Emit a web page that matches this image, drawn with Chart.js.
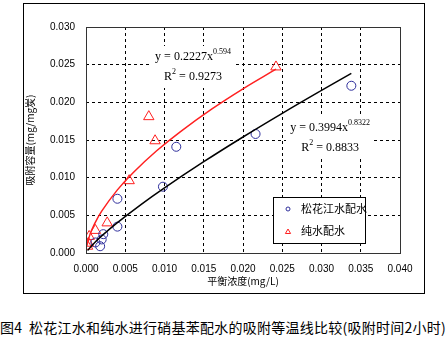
<!DOCTYPE html>
<html>
<head>
<meta charset="utf-8">
<script src="https://cdn.jsdelivr.net/npm/chart.js@4"></script>
<style>
  body { margin: 0; background: #fff; width: 448px; height: 347px; position: relative; overflow: hidden; }
  #frame { position: absolute; left: 23px; top: 3px; width: 400px; height: 289px; border: 1px solid #000; }
  #caption { position: absolute; left: 0; top: 318px; width: 448px; white-space: nowrap; letter-spacing: 0.25px;
    font-family: 'Noto Sans CJK SC', sans-serif; font-size: 14px; line-height: 18px; color: #000; }
</style>
</head>
<body>
<div id="frame"><canvas id="c" width="400" height="289"></canvas></div>
<div id="caption">图4&nbsp;&nbsp;松花江水和纯水进行硝基苯配水的吸附等温线比较(吸附时间2小时)</div>
<script>
// 松花江水配水 (circles)
const riverX = [0.0338, 0.0216, 0.0115, 0.0098, 0.0040, 0.0040, 0.0022, 0.0020, 0.0018, 0.0012];
const riverY = [0.0222, 0.0158, 0.0141, 0.0088, 0.0072, 0.0035, 0.0025, 0.0018, 0.0009, 0.0014];
// 纯水配水 (triangles)
const pureX = [0.0242, 0.0080, 0.0088, 0.0055, 0.0027, 0.0012, 0.0004, 0.0003, 0.0002];
const pureY = [0.0247, 0.0181, 0.0149, 0.0096, 0.0040, 0.0030, 0.0022, 0.0013, 0.0009];
// trend curves
const pureFitX = [0.0001, 0.0005, 0.001, 0.002, 0.004, 0.006, 0.009, 0.012, 0.016, 0.020, 0.0242];
const pureFitY = [0.00094, 0.00244, 0.00368, 0.00555, 0.00838, 0.01066, 0.01357, 0.01609, 0.0191, 0.0218, 0.0244];
const riverFitX = [0.0002, 0.001, 0.002, 0.004, 0.007, 0.010, 0.015, 0.020, 0.025, 0.030, 0.0338];
const riverFitY = [0.00033, 0.00127, 0.00227, 0.00403, 0.00643, 0.00865, 0.01212, 0.0154, 0.01854, 0.02158, 0.02384];

const xTicks = [0, 0.005, 0.01, 0.015, 0.02, 0.025, 0.03, 0.035, 0.04];
const yTicks = [0, 0.005, 0.01, 0.015, 0.02, 0.025, 0.03];

const seriesNames = ['松花江水配水', '纯水配水'];
const pureEq = ['y = 0.2227x', '0.594', '0.9273'];
const riverEq = ['y = 0.3994x', '0.8322', '0.8833'];

const BLUE = '#2f2f9c';
const RED = '#ff2020';

function pts(xs, ys) { return xs.map((x, i) => ({ x, y: ys[i] })); }

const tickFont = { family: 'Liberation Sans', size: 10 };

function drawEq(ctx, cx, cy, eq) {
  ctx.save();
  const big = '12px "Liberation Serif"', small = '8px "Liberation Serif"';
  ctx.font = big;
  const w1 = ctx.measureText(eq[0]).width;
  ctx.font = small;
  const w2 = ctx.measureText(eq[1]).width;
  // white label box like the Excel trendline label
  const bw = w1 + w2 + 8;
  ctx.fillStyle = '#fff';
  ctx.fillRect(Math.round(cx - bw / 2), Math.round(cy - 11), Math.round(bw), 42);
  ctx.fillStyle = '#000';
  ctx.textBaseline = 'middle';
  let x = cx - (w1 + w2) / 2;
  ctx.font = big; ctx.textAlign = 'left';
  ctx.fillText(eq[0], x, cy);
  ctx.font = small;
  ctx.fillText(eq[1], x + w1, cy - 5);
  // R² line
  const r = 'R', rest = ' = ' + eq[2];
  ctx.font = big;
  const wr = ctx.measureText(r).width, wrest = ctx.measureText(rest).width;
  ctx.font = small;
  const w2b = ctx.measureText('2').width;
  x = cx - (wr + w2b + wrest) / 2;
  const y2 = cy + 20;
  ctx.font = big; ctx.fillText(r, x, y2);
  ctx.font = small; ctx.fillText('2', x + wr, y2 - 5);
  ctx.font = big; ctx.fillText(rest, x + wr + w2b, y2);
  ctx.restore();
}

const extras = {
  id: 'extras',
  beforeDatasetsDraw(chart) {
    const { ctx, scales: { x, y } } = chart;
    drawEq(ctx, x.getPixelForValue(0.01363), y.getPixelForValue(0.0260), pureEq);
    drawEq(ctx, x.getPixelForValue(0.0311), y.getPixelForValue(0.0166), riverEq);
  },
  afterDraw(chart) {
    const { ctx, chartArea: a } = chart;
    ctx.save();
    ctx.strokeStyle = '#333';
    ctx.lineWidth = 1;
    ctx.strokeRect(a.left + 0.5, a.top + 0.5, a.right - a.left, a.bottom - a.top);
    ctx.restore();

    // legend box
    const lx = 249, ly = 193, lw = 92, lh = 46;
    ctx.save();
    ctx.fillStyle = '#fff';
    ctx.fillRect(lx, ly, lw, lh);
    ctx.strokeStyle = '#000';
    ctx.lineWidth = 1;
    ctx.strokeRect(lx + 0.5, ly + 0.5, lw, lh);
    ctx.strokeStyle = BLUE;
    Chart.helpers.drawPoint(ctx, { pointStyle: 'circle', radius: 2, borderWidth: 1 }, lx + 15, ly + 12);
    ctx.strokeStyle = RED;
    Chart.helpers.drawPoint(ctx, { pointStyle: 'triangle', radius: 3, borderWidth: 1 }, lx + 15, ly + 35);
    ctx.fillStyle = '#000';
    ctx.font = '11px "Noto Sans CJK SC"';
    ctx.textBaseline = 'middle';
    ctx.fillText(seriesNames[0], lx + 28, ly + 12);
    ctx.fillText(seriesNames[1], lx + 28, ly + 34);
    ctx.restore();
  }
};

const edgeGrid = (ticks) => (c) => (c.index === 0 || c.index === ticks.length - 1) ? 'rgba(0,0,0,0)' : '#000';

new Chart(document.getElementById('c'), {
  type: 'scatter',
  data: {
    datasets: [
      { label: seriesNames[0] + '拟合', data: pts(riverFitX, riverFitY), showLine: true, borderColor: '#000',
        borderWidth: 1.5, pointRadius: 0, tension: 0.4, fill: false },
      { label: seriesNames[1] + '拟合', data: pts(pureFitX, pureFitY), showLine: true, borderColor: RED,
        borderWidth: 1.5, pointRadius: 0, tension: 0.4, fill: false },
      { label: seriesNames[0], data: pts(riverX, riverY), pointStyle: 'circle', pointRadius: 4.5,
        borderColor: BLUE, backgroundColor: 'rgba(0,0,0,0)', borderWidth: 1 },
      { label: seriesNames[1], data: pts(pureX, pureY), pointStyle: 'triangle', pointRadius: 6,
        borderColor: RED, backgroundColor: 'rgba(0,0,0,0)', borderWidth: 1 }
    ]
  },
  options: {
    responsive: false, animation: false,
    layout: { padding: { top: 23, right: 24, left: 0, bottom: 0 } },
    plugins: { legend: { display: false }, tooltip: { enabled: false } },
    scales: {
      x: {
        type: 'linear', min: 0, max: 0.04,
        afterBuildTicks: s => { s.ticks = xTicks.map(v => ({ value: v })); },
        afterFit: s => { s.height = 40; },
        grid: { color: edgeGrid(xTicks), lineWidth: 1, drawTicks: false },
        border: { display: false, dash: [3, 3] },
        ticks: { color: '#000', font: tickFont, padding: 10, maxRotation: 0, callback: v => v.toFixed(3) },
        title: { display: true, text: '平衡浓度(mg/L)', color: '#000', font: { family: 'Noto Sans CJK SC', size: 10 },
          padding: { top: 0, bottom: 6 } }
      },
      y: {
        type: 'linear', min: 0, max: 0.03,
        afterBuildTicks: s => { s.ticks = yTicks.map(v => ({ value: v })); },
        afterFit: s => { s.width = 62; },
        grid: { color: edgeGrid(yTicks), lineWidth: 1, drawTicks: false },
        border: { display: false, dash: [3, 3] },
        ticks: { color: '#000', font: tickFont, padding: 11, callback: v => v.toFixed(3) },
        title: { display: true, text: '吸附容量(mg/mg炭)', color: '#000', font: { family: 'Noto Sans CJK SC', size: 10 },
          padding: { top: 0, bottom: 0 } }
      }
    }
  },
  plugins: [extras]
});
</script>
</body>
</html>
